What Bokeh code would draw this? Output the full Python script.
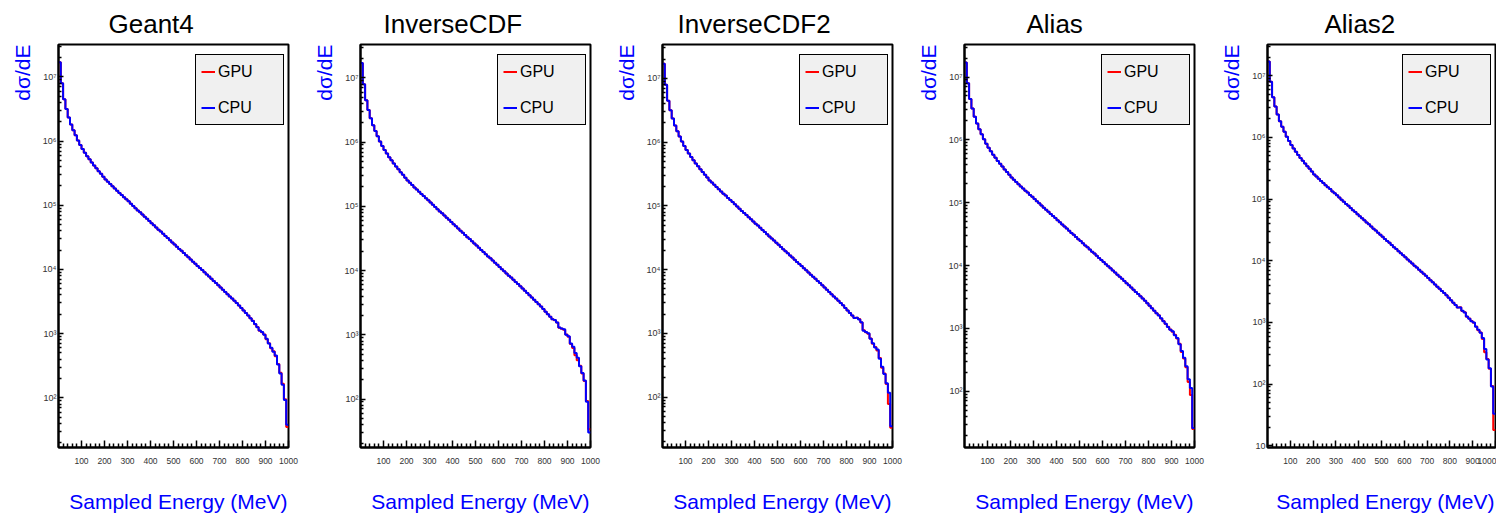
from bokeh.plotting import figure
from bokeh.layouts import row
from bokeh.models import Title, Legend, LegendItem, FixedTicker, CustomJSTickFormatter, LinearAxis
from bokeh.embed import file_html
from bokeh.resources import INLINE

FONT = "Liberation Sans"

# ---------------- data ----------------
panel_titles = ["Geant4", "InverseCDF", "InverseCDF2", "Alias", "Alias2"]
x_axis_title = "Sampled Energy (MeV)"
y_axis_title = "d\u03c3/dE"

# histogram binning: 100 bins of 10 MeV between 0 and 1000 MeV
bin_low_mev = list(range(0, 1000, 10))
energy_max_mev = 1000

# dσ/dE in bins 0..83 (identical in all panels, CPU and GPU overlap)
dsde_common = [
    1.70e7, 7.94e6, 4.47e6, 3.16e6, 2.34e6, 1.82e6, 1.48e6, 1.23e6, 1.02e6, 8.71e5,
    7.50e5, 6.61e5, 5.82e5, 5.19e5, 4.62e5, 4.17e5, 3.76e5, 3.39e5, 3.09e5, 2.79e5,
    2.51e5, 2.32e5, 2.14e5, 1.97e5, 1.82e5, 1.68e5, 1.55e5, 1.45e5, 1.33e5, 1.24e5,
    1.15e5, 1.06e5, 9.77e4, 9.02e4, 8.32e4, 7.76e4, 7.16e4, 6.61e4, 6.17e4, 5.69e4,
    5.25e4, 4.90e4, 4.52e4, 4.17e4, 3.89e4, 3.59e4, 3.31e4, 3.09e4, 2.85e4, 2.63e4,
    2.45e4, 2.26e4, 2.09e4, 1.95e4, 1.80e4, 1.66e4, 1.55e4, 1.43e4, 1.32e4, 1.23e4,
    1.135e4, 1.05e4, 9770, 9020, 8320, 7760, 7160, 6610, 6170, 5690,
    5250, 4840, 4470, 4120, 3800, 3510, 3240, 2990, 2750, 2510,
    2290, 2090, 1910, 1740,
]

# bins 84..99 per panel
geant4_cpu_tail = [1570, 1410, 1260, 1120, 1060, 960, 830, 700, 600, 520, 455, 330, 240, 160, 92, 38]
geant4_gpu_tail = [1580, 1400, 1270, 1110, 1050, 970, 820, 710, 590, 530, 445, 335, 245, 165, 95, 35]
inversecdf_cpu_tail = [1700, 1550, 1300, 1250, 1220, 1000, 950, 730, 650, 520, 440, 325, 255, 195, 91, 30]
inversecdf_gpu_tail = [1680, 1560, 1290, 1240, 1200, 1010, 930, 720, 620, 480, 400, 330, 250, 190, 93, 34]
inversecdf2_cpu_tail = [1750, 1650, 1500, 1100, 1050, 1000, 820, 700, 600, 560, 400, 300, 230, 165, 117, 35]
inversecdf2_gpu_tail = [1760, 1680, 1480, 1120, 1040, 990, 830, 690, 610, 540, 410, 290, 235, 160, 78, 33]
alias_cpu_tail = [1600, 1450, 1300, 1180, 1050, 950, 900, 780, 700, 560, 435, 340, 250, 155, 112, 26]
alias_gpu_tail = [1620, 1440, 1310, 1170, 1060, 960, 880, 790, 690, 570, 420, 330, 240, 140, 87, 25]
alias2_cpu_tail = [1750, 1550, 1450, 1250, 1150, 1050, 1000, 850, 760, 680, 560, 370, 250, 181, 92, 33]
alias2_gpu_tail = [1760, 1540, 1470, 1240, 1160, 1060, 990, 860, 750, 690, 540, 330, 255, 178, 93, 18]

cpu_tails = [geant4_cpu_tail, inversecdf_cpu_tail, inversecdf2_cpu_tail, alias_cpu_tail, alias2_cpu_tail]
gpu_tails = [geant4_gpu_tail, inversecdf_gpu_tail, inversecdf2_gpu_tail, alias_gpu_tail, alias2_gpu_tail]

y_min = [16.8, 17.6, 16.2, 12.7, 9.4]
y_max = [3.2e7, 3.3e7, 3.4e7, 3.3e7, 3.2e7]

x_major_ticks = list(range(100, 1001, 100))
x_minor_ticks = [v for v in range(0, 1001, 20) if v % 100]
y_major_ticks = [10 ** e for e in range(0, 9)]
y_minor_ticks = [m * 10 ** e for e in range(0, 8) for m in range(2, 10)]

series_labels = ["GPU", "CPU"]
series_colors = ["#ff0000", "#0000ff"]

# ---------------- layout ----------------
border_left = [58, 58, 58, 58, 59]
border_right = [14, 14, 14, 14, 1]
frame_w = [230, 230, 230, 230, 228]
title_offset = [50, 23, 15, 62, 57]
BORDER_TOP = 42
FRAME_H = 405
BORDER_BOTTOM = 70

sup_js = """
const sup = {"0":"\\u2070","1":"\\u00b9","2":"\\u00b2","3":"\\u00b3","4":"\\u2074",
             "5":"\\u2075","6":"\\u2076","7":"\\u2077","8":"\\u2078","9":"\\u2079"};
const e = Math.round(Math.log10(tick));
if (e == 0) { return "1"; }
if (e == 1) { return "10"; }
return "10" + String(e).split("").map(c => sup[c]).join("");
"""

figs = []
for i, name in enumerate(panel_titles):
    p = figure(
        width=border_left[i] + frame_w[i] + border_right[i],
        height=BORDER_TOP + FRAME_H + BORDER_BOTTOM,
        x_range=(0, energy_max_mev), y_range=(y_min[i], y_max[i]),
        y_axis_type="log",
        min_border_left=border_left[i], min_border_right=border_right[i],
        min_border_top=BORDER_TOP, min_border_bottom=BORDER_BOTTOM,
        output_backend="svg", toolbar_location=None,
        background_fill_color="white", border_fill_color="white",
    )
    p.title.text = name
    p.title.align = "left"
    p.title.offset = title_offset[i]
    p.title.text_font = FONT
    p.title.text_font_size = "26px"
    p.title.text_font_style = "normal"
    p.title.text_color = "black"
    p.title.standoff = 12

    p.xgrid.grid_line_color = None
    p.ygrid.grid_line_color = None
    p.outline_line_color = "black"
    p.outline_line_width = 2
    p.outline_line_alpha = 1

    xa = p.xaxis[0]
    xa.ticker = FixedTicker(ticks=x_major_ticks, minor_ticks=x_minor_ticks)
    xa.major_tick_in = 7
    xa.major_tick_out = 0
    xa.minor_tick_in = 4
    xa.minor_tick_out = 0
    xa.axis_line_width = 2
    xa.major_tick_line_width = 1.5
    xa.minor_tick_line_width = 1.5
    xa.major_label_text_font = FONT
    xa.major_label_text_font_size = "8.5px"
    xa.major_label_text_color = "#333333"
    xa.major_label_standoff = 10

    # white, label-less spacer axis between the tick labels and the x title
    spacer = LinearAxis(ticker=FixedTicker(ticks=[energy_max_mev / 2], minor_ticks=[]),
                        formatter=CustomJSTickFormatter(code="return '';"),
                        axis_line_color=None, major_tick_line_color="white",
                        minor_tick_line_color=None, major_tick_in=0, major_tick_out=23,
                        minor_tick_in=0, minor_tick_out=0, major_label_standoff=0)
    p.add_layout(spacer, "below")

    xtitle = Title(text=x_axis_title, align="right", vertical_align="top", offset=1,
                   standoff=0, text_color="#0000ff", text_font=FONT,
                   text_font_size="21px", text_font_style="normal")
    p.add_layout(xtitle, "below")

    ya = p.yaxis[0]
    ya.ticker = FixedTicker(ticks=y_major_ticks, minor_ticks=y_minor_ticks)
    ya.formatter = CustomJSTickFormatter(code=sup_js)
    ya.major_tick_in = 5
    ya.major_tick_out = 0
    ya.minor_tick_in = 3
    ya.minor_tick_out = 0
    ya.axis_line_width = 2
    ya.major_tick_line_width = 1.5
    ya.minor_tick_line_width = 1.5
    ya.major_label_text_font = FONT
    ya.major_label_text_font_size = "9px"
    ya.major_label_text_color = "#333333"
    ya.major_label_standoff = 2

    ytitle = Title(text=y_axis_title, align="right", text_color="#0000ff",
                   text_font=FONT, text_font_size="21px", text_font_style="normal",
                   standoff=12)
    p.add_layout(ytitle, "left")

    cpu = dsde_common + cpu_tails[i]
    gpu = dsde_common + gpu_tails[i]
    xs = bin_low_mev + [energy_max_mev]
    renderers = []
    for vals, col in ((gpu, series_colors[0]), (cpu, series_colors[1])):
        r = p.step(x=xs, y=vals + [vals[-1]], mode="after", line_color=col, line_width=2)
        renderers.append(r)

    legend = Legend(
        items=[LegendItem(label=series_labels[0], renderers=[renderers[0]]),
               LegendItem(label=series_labels[1], renderers=[renderers[1]])],
        location=(frame_w[i] - 93, FRAME_H - 14 - 69),
        margin=0, padding=5, spacing=13,
        glyph_width=14, glyph_height=23, label_height=23, label_width=60,
        label_standoff=3,
        label_text_font=FONT, label_text_font_size="16px", label_text_color="black",
        border_line_color="black", border_line_width=1.5, border_line_alpha=1,
        background_fill_color="#f0f0f0", background_fill_alpha=1,
    )
    p.add_layout(legend)
    figs.append(p)

layout = row(*figs, spacing=0)
open("out.html", "w", encoding="utf-8").write(file_html(layout, INLINE))
